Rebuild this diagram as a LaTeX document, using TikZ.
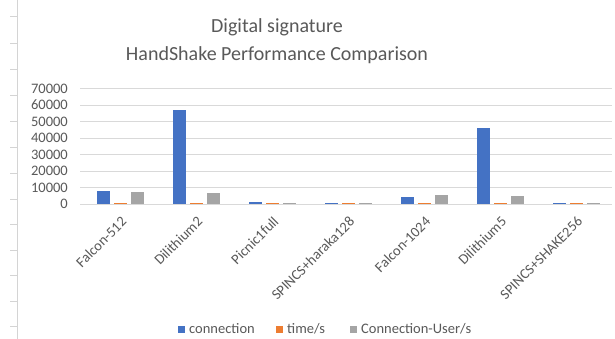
\documentclass[tikz,border=0pt]{standalone}
\usepackage{fontspec}
\setmainfont{Carlito}
\definecolor{cblue}{HTML}{4472C4}
\definecolor{corange}{HTML}{ED7D31}
\definecolor{cgray}{HTML}{A5A5A5}
\definecolor{ctext}{HTML}{595959}
\definecolor{cgrid}{HTML}{D9D9D9}
\definecolor{csheet}{HTML}{D4D4D4}
\tikzset{
  grid line/.style={draw=cgrid, line width=0.8pt},
  ylab/.style={anchor=east, inner sep=0pt, text=ctext, font=\fontsize{14.5}{16}\selectfont},
  xlab/.style={anchor=east, inner sep=0pt, rotate=45, text=ctext, font=\fontsize{14.5}{16}\selectfont},
  titletext/.style={text=ctext, font=\fontsize{20}{22}\selectfont, inner sep=0pt},
  legtext/.style={anchor=west, inner sep=0pt, text=ctext, font=\fontsize{14.5}{16}\selectfont},
  barA/.style={fill=cblue},
  barB/.style={fill=corange},
  barC/.style={fill=cgray},
}
% values in thousands; 1000 -> 1.65 px
\newcommand{\barset}[4]{%
  \pgfmathsetmacro{\cx}{120+76*#1}
  \fill[barA] (\cx-23,204) rectangle (\cx-10,{204-1.65*#2});
  \fill[barB] (\cx-6.5,204) rectangle (\cx+6.5,{204-1.65*#3});
  \fill[barC] (\cx+10.5,204) rectangle (\cx+23.5,{204-1.65*#4});
}
\begin{document}
\begin{tikzpicture}[x=1pt,y=-1pt]
\useasboundingbox (0,0) rectangle (615,339);
\fill[white] (0,0) rectangle (615,339);
% spreadsheet remnant on the left
\draw[csheet, line width=0.8pt] (17,0) -- (17,339);
\foreach \y in {16,43,69,95,121,147,173,199,224,250,275,301,326}
  \draw[csheet, line width=0.8pt] (10,\y) -- (17,\y);
% title
\node[titletext] (t1) at (277,27) {Digital signature};
\node[titletext] (t2) at (277,55) {HandShake Performance Comparison};
% gridlines and y labels
\foreach \v [count=\i from 0] in {0,10000,20000,30000,40000,50000,60000,70000} {
  \pgfmathsetmacro{\yy}{204-16.5*\i}
  \draw[grid line] (80,\yy) -- (612,\yy);
  \node[ylab] (y\i) at (68,\yy) {\v};
}
% bars
\barset{0}{7.9}{0.7}{7.2}
\barset{1}{57.0}{0.7}{6.5}
\barset{2}{1.4}{0.7}{0.7}
\barset{3}{0.6}{0.7}{0.6}
\barset{4}{4.0}{0.7}{5.3}
\barset{5}{45.9}{0.7}{4.7}
\barset{6}{0.6}{0.7}{0.6}
% x labels
\foreach \lab [count=\i from 0] in {Falcon-512,Dilithium2,Picnic1full,SPINCS+haraka128,Falcon-1024,Dilithium5,SPINCS+SHAKE256} {
  \pgfmathsetmacro{\cx}{120+76*\i}
  \node[xlab] (x\i) at (\cx+4,219) {\lab};
}
% legend
\fill[cblue] (178,325.5) rectangle (185,332.5);
\node[legtext] (l1) at (189,329) {connection};
\fill[corange] (276,325.5) rectangle (283,332.5);
\node[legtext] (l2) at (287,329) {time/s};
\fill[cgray] (350,325.5) rectangle (357,332.5);
\node[legtext] (l3) at (361,329) {Connection-User/s};
\end{tikzpicture}
\end{document}
